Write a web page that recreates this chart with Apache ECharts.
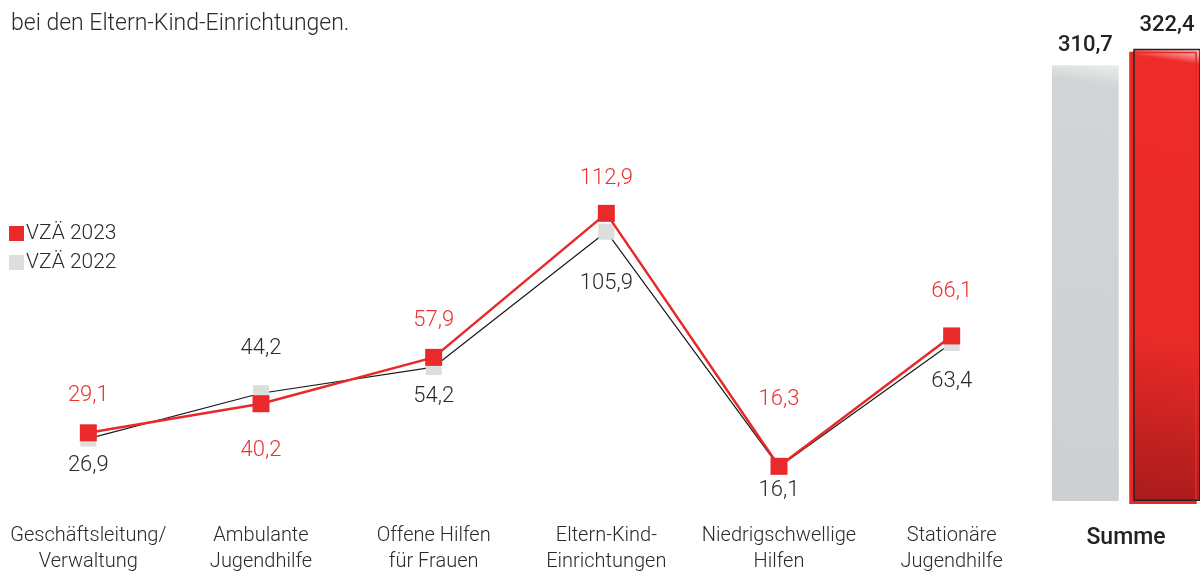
<!DOCTYPE html>
<html>
<head>
<meta charset="utf-8">
<script src="https://cdn.jsdelivr.net/npm/echarts@6/dist/echarts.min.js"></script>
<style>
  html, body { margin: 0; padding: 0; background: #fff; }
  #chart { width: 1200px; height: 575px; }
</style>
</head>
<body>
<div id="chart"></div>
<script>
// Bereiche und Vollzeitäquivalente
const categories = ["Geschäftsleitung/\nVerwaltung", "Ambulante\nJugendhilfe", "Offene Hilfen\nfür Frauen", "Eltern-Kind-\nEinrichtungen", "Niedrigschwellige\nHilfen", "Stationäre\nJugendhilfe"];
const vza2023 = [29.1, 40.2, 57.9, 112.9, 16.3, 66.1];
const vza2022 = [26.9, 44.2, 54.2, 105.9, 16.1, 63.4];
const sumCategory = ["Summe"];
const sum2022 = [310.7];
const sum2023 = [322.4];

// Lage der Beschriftungen (Versatz zum Punkt)
const dy2023 = [-37, 47, -37, -35, -67, -44];
const dy2022 = [27, -45, 29, 52, 24, 39];

const fmt = v => String(v).replace(".", ",");
const font = "Roboto";

const myChart = echarts.init(document.getElementById("chart"));

function pts(values, dys) {
  return values.map((v, i) => ({
    value: v,
    label: { offset: [0, dys[i]] }
  }));
}

myChart.setOption({
  animation: false,
  title: {
    text: "bei den Eltern-Kind-Einrichtungen.",
    left: 6,
    top: 8,
    textStyle: { fontFamily: font, fontSize: 23, fontWeight: 300, color: "#2a2a2a" }
  },
  legend: {
    orient: "vertical",
    left: 4,
    top: 218,
    icon: "rect",
    itemWidth: 15,
    itemHeight: 15,
    itemGap: 8,
    data: ["VZÄ 2023", "VZÄ 2022"],
    textStyle: { fontFamily: font, fontSize: 21, fontWeight: 300, color: "#2a2a2a", padding: [0, 0, 0, -3] }
  },
  grid: [
    { left: 2, width: 1036, top: 90, bottom: 65 },
    { left: 1052, width: 160, top: 10, bottom: 74 }
  ],
  xAxis: [
    {
      type: "category",
      gridIndex: 0,
      data: categories,
      axisLine: { show: false },
      axisTick: { show: false },
      axisLabel: {
        margin: 14,
        interval: 0,
        fontFamily: font,
        fontSize: 20,
        fontWeight: 300,
        lineHeight: 26,
        color: "#2a2a2a"
      }
    },
    {
      type: "category",
      gridIndex: 1,
      data: sumCategory,
      axisLine: { show: false },
      axisTick: { show: false },
      axisLabel: {
        margin: 26,
        fontFamily: font,
        fontSize: 23,
        fontWeight: 500,
        color: "#222"
      }
    }
  ],
  yAxis: [
    { type: "value", gridIndex: 0, min: 0, max: 160, show: false },
    { type: "value", gridIndex: 1, min: 0, max: 350, show: false }
  ],
  series: [
    {
      name: "VZÄ 2022",
      type: "line",
      xAxisIndex: 0,
      yAxisIndex: 0,
      data: pts(vza2022, dy2022),
      symbol: "rect",
      symbolSize: 16,
      lineStyle: { color: "#1a1a1a", width: 1.2 },
      itemStyle: { color: "#dcdddd" },
      label: {
        show: true,
        position: "inside",
        formatter: p => fmt(p.value),
        fontFamily: font,
        fontSize: 22,
        fontWeight: 300,
        color: "#2a2a2a"
      },
      z: 2
    },
    {
      name: "VZÄ 2023",
      type: "line",
      xAxisIndex: 0,
      yAxisIndex: 0,
      data: pts(vza2023, dy2023),
      symbol: "rect",
      symbolSize: 17,
      lineStyle: { color: "#e8292a", width: 2.5 },
      itemStyle: { color: "#ea2a2a" },
      label: {
        show: true,
        position: "inside",
        formatter: p => fmt(p.value),
        fontFamily: font,
        fontSize: 22,
        fontWeight: 300,
        color: "#ea3330"
      },
      z: 3
    },
    {
      name: "Summe 2022",
      type: "bar",
      xAxisIndex: 1,
      yAxisIndex: 1,
      data: sum2022,
      barWidth: 69,
      barGap: "21%",
      itemStyle: {
        color: new echarts.graphic.LinearGradient(1, 0, 0, 1, [
          { offset: 0, color: "#eceeee" },
          { offset: 0.05, color: "#d2d5d6" },
          { offset: 1, color: "#cdd0d1" }
        ])
      },
      label: {
        show: true,
        position: "top",
        distance: 9,
        formatter: p => fmt(p.value),
        fontFamily: font,
        fontSize: 22,
        fontWeight: 500,
        color: "#222"
      }
    },
    {
      name: "Summe 2023",
      type: "bar",
      xAxisIndex: 1,
      yAxisIndex: 1,
      data: sum2023,
      barWidth: 69,
      itemStyle: {
        color: new echarts.graphic.LinearGradient(1, 0, 0, 1, [
          { offset: 0, color: "#fbe4e3" },
          { offset: 0.035, color: "#ef2c29" },
          { offset: 0.65, color: "#e82a28" },
          { offset: 1, color: "#a81b1b" }
        ]),
        borderColor: "#2a2222",
        borderWidth: 1.5,
        shadowColor: "#e52a27",
        shadowBlur: 0,
        shadowOffsetX: -4,
        shadowOffsetY: 3
      },
      label: {
        show: true,
        position: "top",
        distance: 12,
        formatter: p => fmt(p.value),
        fontFamily: font,
        fontSize: 22,
        fontWeight: 500,
        color: "#222"
      }
    }
  ]
});
</script>
</body>
</html>
